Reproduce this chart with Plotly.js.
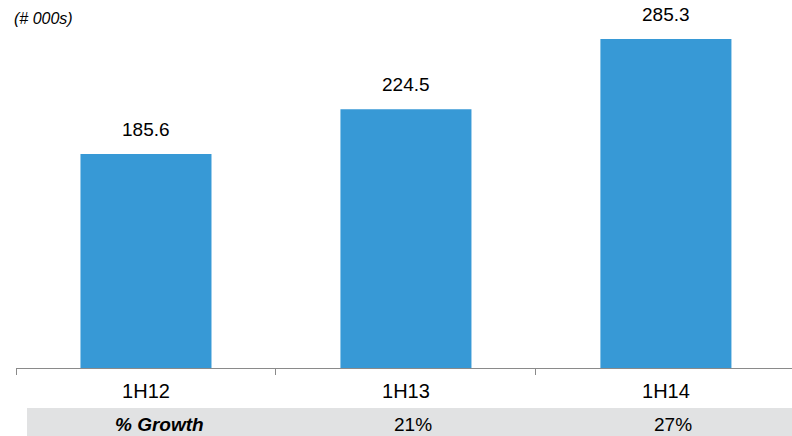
<!DOCTYPE html>
<html>
<head>
<meta charset="utf-8">
<script src="https://cdn.plot.ly/plotly-3.0.1.min.js"></script>
<style>html,body{margin:0;padding:0;background:#fff;}#chart{width:792px;height:436px;}</style>
</head>
<body>
<div id="chart"></div>
<script>
const categories = ["1H12", "1H13", "1H14"];
const values = [185.6, 224.5, 285.3];
const valueLabels = ["185.6", "224.5", "285.3"];
const growthLabel = "% Growth";
const growth = ["", "21%", "27%"];
const unitNote = "(# 000s)";

const W = 792, H = 436;
const mL = 16, mR = 0, mT = 30, mB = 68;
const plotH = H - mT - mB;
const plotW = W - mL - mR;
function py(pix) { return (H - mB - pix) / plotH; }
function px(pix) { return (pix - mL) / plotW; }

const font = "Liberation Sans, Arial, sans-serif";

const annotations = [];
categories.forEach((c, i) => {
  annotations.push({x: c, y: values[i], xref: 'x', yref: 'y', text: valueLabels[i],
    showarrow: false, yanchor: 'bottom', yshift: 12, font: {family: font, size: 19, color: '#000'}});
  if (growth[i]) {
    annotations.push({x: c, y: py(424), xref: 'x', yref: 'paper', text: growth[i],
      showarrow: false, yanchor: 'middle', xshift: 7, font: {family: font, size: 19, color: '#000'}});
  }
});
annotations.push({x: categories[0], y: py(424), xref: 'x', yref: 'paper', text: '<b><i>' + growthLabel + '</i></b>',
  showarrow: false, yanchor: 'middle', xshift: 14, font: {family: font, size: 19, color: '#000'}});
annotations.push({x: px(12), y: py(19), xref: 'paper', yref: 'paper', text: '<i>' + unitNote + '</i>',
  showarrow: false, xanchor: 'left', yanchor: 'middle', font: {family: font, size: 16, color: '#000'}});

const data = [{
  type: 'bar', x: categories, y: values,
  marker: {color: '#3799d6'}, hoverinfo: 'none'
}];

const layout = {
  width: W, height: H,
  margin: {l: mL, r: mR, t: mT, b: mB, pad: 0},
  paper_bgcolor: '#fff', plot_bgcolor: '#fff',
  showlegend: false,
  bargap: 0.496,
  xaxis: {
    type: 'category', range: [-0.5, 2.485],
    showline: true, linecolor: '#8a8a8a', linewidth: 1,
    ticks: 'outside', tickson: 'boundaries', ticklen: 6, tickcolor: '#8a8a8a',
    ticklabelstandoff: 5,
    tickfont: {family: font, size: 20, color: '#000'},
    showgrid: false, zeroline: false, fixedrange: true
  },
  yaxis: {
    range: [0, plotH / 1.153], visible: false, showgrid: false, zeroline: false, fixedrange: true
  },
  shapes: [{
    type: 'rect', xref: 'paper', yref: 'paper', layer: 'below',
    x0: px(27), x1: 1, y0: py(436), y1: py(408),
    fillcolor: '#e1e2e3', line: {width: 0}
  }],
  annotations: annotations
};

Plotly.newPlot('chart', data, layout, {displayModeBar: false, staticPlot: true});
</script>
</body>
</html>
